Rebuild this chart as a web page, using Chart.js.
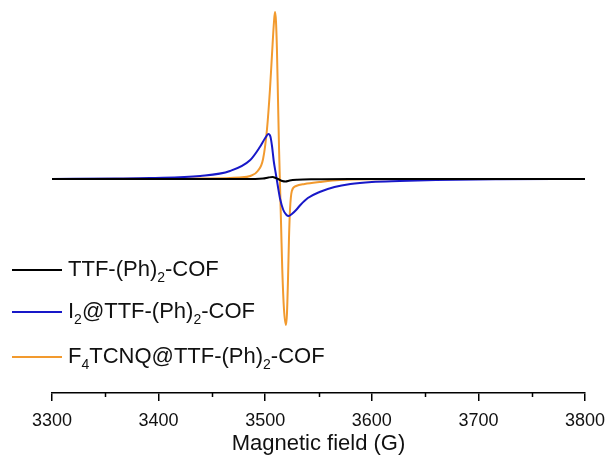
<!DOCTYPE html>
<html><head><meta charset="utf-8">
<script src="https://cdn.jsdelivr.net/npm/chart.js@4.4.1/dist/chart.umd.min.js"></script>
<style>html,body{margin:0;padding:0;background:#fff}#wrap{width:608px;height:461px;position:relative}</style>
</head><body><div id="wrap"><canvas id="c"></canvas></div>
<script>
const seriesLabels = ['TTF-(Ph)₂-COF', 'I₂@TTF-(Ph)₂-COF', 'F₄TCNQ@TTF-(Ph)₂-COF'];
const xTicks = [3300, 3400, 3500, 3600, 3700, 3800];
const xTitle = 'Magnetic field (G)';

const blackField  = [3300, 3480, 3498, 3503, 3507, 3510, 3513, 3516, 3519, 3523, 3530, 3545, 3580, 3800];
const blackSignal = [0,    0,    0.5,  1.5,  2,    1,    -0.5, -2,   -2.5, -1.5, -0.8, -0.3, 0,    0];

const blueField  = [3300, 3360, 3392, 3439, 3467, 3486, 3495, 3500, 3503, 3505, 3506.5, 3508, 3510, 3512, 3514, 3517, 3520, 3522, 3525, 3529, 3533, 3540, 3551, 3565, 3580, 3600, 3626, 3660, 3720, 3800];
const blueSignal = [0,    0.5,  1,    3,    8,    19,   32,   41,   45,   42,   32,     18,   5,    -8,   -20,  -31,  -36,  -37,  -35,  -31,  -26,  -19,  -13,  -8,   -5,   -3,   -2,   -1,   -0.3, 0];

const orangeField  = [3300, 3440, 3476, 3486, 3493, 3498, 3501.7, 3504.5, 3506.4, 3508.3, 3509.2, 3510.1, 3511, 3512, 3513, 3514, 3515, 3516, 3517.6, 3519.5, 3520.4, 3521.4, 3522.3, 3523.3, 3525, 3529, 3537, 3551, 3570, 3608, 3650, 3800];
const orangeSignal = [0,    0.5,  1.5,  3,    8,    20,   50,     90,     125,    158,    167,    158,    130,  80,   30,   -10,  -50,  -90,  -130,   -146,   -135,   -100,   -60,    -30,    -12,  -7,   -5,   -3,   -1,   -0.3, 0,    0];

const colors = ['#000000', '#1818c8', '#f29a2e'];

function pts(xs, ys) { return xs.map((x, i) => ({ x: x, y: ys[i] })); }

const minorTicks = {
  id: 'minorTicks',
  afterDraw(chart) {
    const s = chart.scales.x, ctx = chart.ctx, y0 = chart.chartArea.bottom;
    ctx.save();
    ctx.strokeStyle = '#000'; ctx.lineWidth = 1.5;
    for (let v = s.min + 50; v < s.max; v += 100) {
      const px = Math.round(s.getPixelForValue(v)) + 0.5;
      ctx.beginPath(); ctx.moveTo(px, y0); ctx.lineTo(px, y0 + 4); ctx.stroke();
    }
    ctx.restore();
  }
};

const subLegend = {
  id: 'subLegend',
  afterDraw(chart) {
    const ctx = chart.ctx;
    const subs = '₀₁₂₃₄₅₆₇₈₉';
    const x0 = 12, lineLen = 50, gap = 6, rowY = [270, 312, 357];
    ctx.save();
    chart.data.datasets.forEach((ds, i) => {
      const y = rowY[i];
      ctx.strokeStyle = ds.borderColor; ctx.lineWidth = 2;
      ctx.beginPath(); ctx.moveTo(x0, y); ctx.lineTo(x0 + lineLen, y); ctx.stroke();
      let x = x0 + lineLen + gap;
      ctx.fillStyle = '#111'; ctx.textBaseline = 'middle'; ctx.textAlign = 'left';
      for (const ch of ds.label) {
        const k = subs.indexOf(ch);
        if (k >= 0) {
          ctx.font = '14px "Liberation Sans", Arial, sans-serif';
          const t = String(k);
          ctx.fillText(t, x, y + 8);
          x += ctx.measureText(t).width;
        } else {
          ctx.font = '22px "Liberation Sans", Arial, sans-serif';
          ctx.fillText(ch, x, y);
          x += ctx.measureText(ch).width;
        }
      }
    });
    ctx.restore();
  }
};

new Chart(document.getElementById('c'), {
  type: 'line',
  data: {
    datasets: [
      { label: seriesLabels[0], data: pts(blackField, blackSignal), borderColor: colors[0] },
      { label: seriesLabels[1], data: pts(blueField, blueSignal), borderColor: colors[1] },
      { label: seriesLabels[2], data: pts(orangeField, orangeSignal), borderColor: colors[2] }
    ]
  },
  options: {
    responsive: true, maintainAspectRatio: false, animation: false,
    devicePixelRatio: 1,
    layout: { padding: { left: 52, right: 23, top: 0, bottom: 0 } },
    elements: { point: { radius: 0 }, line: { borderWidth: 2, cubicInterpolationMode: 'monotone' } },
    plugins: { legend: { display: false }, tooltip: { enabled: false } },
    scales: {
      x: {
        type: 'linear', min: 3300, max: 3800,
        afterFit(s) { s.height = 68; s.paddingRight = 0; s.paddingLeft = 0; },
        afterBuildTicks(s) { s.ticks = xTicks.map(v => ({ value: v })); },
        ticks: { color: '#111', padding: 9, maxRotation: 0, callback: v => String(v), font: { size: 18, family: '"Liberation Sans", Arial, sans-serif' } },
        grid: { drawOnChartArea: false, drawTicks: true, tickLength: 8, color: '#000', lineWidth: 1.5 },
        border: { display: true, color: '#000', width: 1.5 },
        title: { display: true, text: xTitle, color: '#111', padding: { top: 2, bottom: 4 }, font: { size: 22, family: '"Liberation Sans", Arial, sans-serif' } }
      },
      y: { display: false, min: -214, max: 179 }
    }
  },
  plugins: [minorTicks, subLegend]
});
</script>
</body></html>
